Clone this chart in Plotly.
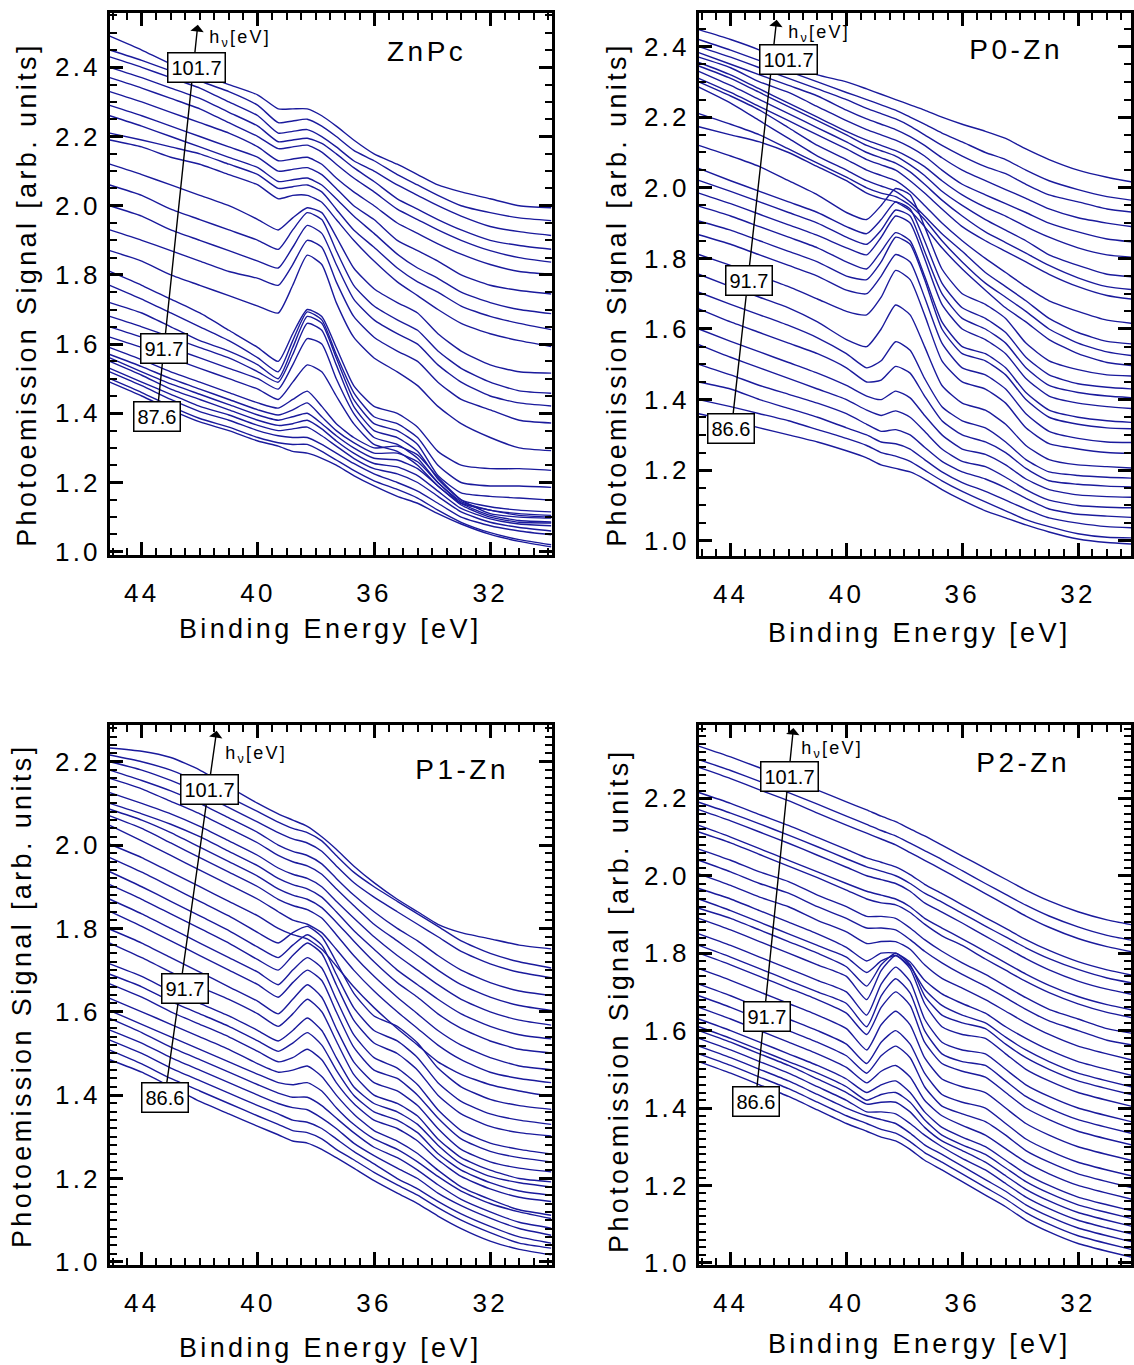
import plotly.graph_objects as go

# ---------------- data ----------------
ENERGY = [45.1, 44.0, 43.0, 42.0, 41.0, 40.0, 39.3, 38.8, 38.3, 37.8,
          37.3, 36.7, 36.0, 35.2, 34.5, 33.8, 33.0, 32.0, 31.0, 29.9]

ZNPC = [
    [1.49,1.45,1.41,1.375,1.35,1.32,1.305,1.29,1.285,1.27,1.25,1.22,1.19,1.16,1.14,1.11,1.08,1.05,1.03,1.014],
    [1.50,1.46,1.42,1.385,1.36,1.33,1.315,1.31,1.31,1.29,1.265,1.235,1.205,1.18,1.155,1.12,1.085,1.055,1.035,1.020],
    [1.52,1.48,1.44,1.405,1.38,1.35,1.335,1.33,1.33,1.31,1.285,1.255,1.225,1.20,1.175,1.14,1.10,1.075,1.06,1.049],
    [1.53,1.49,1.455,1.42,1.395,1.365,1.35,1.355,1.36,1.335,1.305,1.27,1.24,1.225,1.20,1.16,1.115,1.085,1.07,1.06],
    [1.55,1.51,1.47,1.44,1.41,1.38,1.365,1.37,1.38,1.355,1.32,1.285,1.255,1.245,1.22,1.175,1.125,1.095,1.08,1.075],
    [1.56,1.52,1.485,1.455,1.425,1.395,1.38,1.39,1.40,1.37,1.335,1.30,1.27,1.265,1.24,1.19,1.135,1.10,1.085,1.083],
    [1.57,1.535,1.50,1.47,1.44,1.41,1.395,1.41,1.43,1.39,1.35,1.315,1.285,1.285,1.26,1.20,1.14,1.105,1.09,1.086],
    [1.59,1.555,1.52,1.49,1.46,1.43,1.415,1.44,1.464,1.42,1.37,1.33,1.30,1.305,1.28,1.215,1.15,1.11,1.10,1.097],
    [1.62,1.59,1.56,1.53,1.50,1.47,1.44,1.49,1.54,1.52,1.45,1.37,1.31,1.29,1.25,1.19,1.14,1.12,1.105,1.10],
    [1.65,1.62,1.59,1.56,1.53,1.50,1.47,1.54,1.616,1.60,1.50,1.40,1.33,1.31,1.27,1.20,1.145,1.12,1.11,1.105],
    [1.68,1.65,1.62,1.59,1.56,1.52,1.49,1.57,1.66,1.64,1.54,1.42,1.35,1.33,1.29,1.21,1.15,1.13,1.12,1.115],
    [1.72,1.69,1.65,1.61,1.58,1.54,1.50,1.59,1.68,1.66,1.56,1.44,1.37,1.35,1.31,1.22,1.17,1.16,1.155,1.149],
    [1.77,1.73,1.69,1.65,1.61,1.56,1.52,1.61,1.693,1.67,1.57,1.46,1.39,1.37,1.33,1.25,1.20,1.19,1.19,1.186],
    [1.81,1.77,1.73,1.69,1.64,1.59,1.55,1.63,1.70,1.68,1.59,1.48,1.42,1.40,1.36,1.29,1.25,1.24,1.24,1.235],
    [1.87,1.84,1.80,1.77,1.74,1.71,1.69,1.77,1.857,1.83,1.72,1.62,1.56,1.52,1.48,1.42,1.37,1.33,1.30,1.292],
    [1.93,1.90,1.87,1.84,1.81,1.79,1.77,1.83,1.90,1.88,1.78,1.68,1.62,1.58,1.55,1.49,1.44,1.41,1.38,1.372],
    [2.00,1.97,1.93,1.90,1.87,1.84,1.82,1.88,1.943,1.92,1.83,1.73,1.67,1.63,1.60,1.54,1.49,1.45,1.43,1.421],
    [2.06,2.03,1.99,1.96,1.93,1.90,1.874,1.93,1.98,1.96,1.87,1.77,1.71,1.67,1.64,1.58,1.53,1.49,1.465,1.458],
    [2.12,2.09,2.06,2.03,2.00,1.96,1.93,1.965,1.994,1.98,1.91,1.82,1.76,1.72,1.69,1.63,1.58,1.54,1.52,1.516],
    [2.19,2.17,2.14,2.12,2.09,2.06,2.02,2.03,2.03,2.01,1.96,1.90,1.84,1.78,1.74,1.70,1.66,1.63,1.61,1.593],
    [2.21,2.19,2.17,2.15,2.12,2.09,2.05,2.055,2.06,2.04,1.99,1.93,1.88,1.82,1.78,1.75,1.71,1.68,1.66,1.642],
    [2.26,2.23,2.20,2.17,2.14,2.11,2.07,2.075,2.08,2.06,2.02,1.97,1.92,1.86,1.82,1.79,1.75,1.72,1.70,1.688],
    [2.29,2.26,2.23,2.20,2.17,2.14,2.10,2.105,2.11,2.09,2.05,2.00,1.96,1.90,1.87,1.84,1.80,1.77,1.755,1.745],
    [2.33,2.30,2.27,2.24,2.21,2.17,2.13,2.135,2.14,2.12,2.08,2.04,2.00,1.95,1.92,1.89,1.86,1.83,1.81,1.802],
    [2.37,2.34,2.31,2.28,2.24,2.20,2.165,2.17,2.175,2.155,2.12,2.08,2.04,1.99,1.96,1.93,1.90,1.87,1.85,1.837],
    [2.40,2.37,2.34,2.31,2.27,2.23,2.185,2.19,2.195,2.18,2.15,2.11,2.07,2.02,1.99,1.96,1.93,1.90,1.885,1.874],
    [2.43,2.40,2.37,2.34,2.30,2.26,2.21,2.215,2.22,2.20,2.17,2.13,2.10,2.06,2.03,2.00,1.97,1.94,1.925,1.914],
    [2.45,2.42,2.39,2.36,2.33,2.29,2.24,2.245,2.25,2.23,2.20,2.16,2.13,2.09,2.06,2.03,2.00,1.98,1.965,1.957],
    [2.49,2.45,2.41,2.38,2.35,2.32,2.28,2.28,2.28,2.26,2.23,2.19,2.15,2.12,2.09,2.06,2.04,2.02,2.00,1.994],
]

P0_ZN = [
    [1.36,1.34,1.32,1.30,1.28,1.255,1.235,1.215,1.205,1.195,1.175,1.145,1.115,1.085,1.065,1.045,1.025,1.005,0.995,0.99],
    [1.40,1.38,1.36,1.34,1.315,1.29,1.27,1.25,1.24,1.225,1.20,1.17,1.14,1.11,1.085,1.06,1.04,1.02,1.01,1.008],
    [1.45,1.43,1.40,1.375,1.35,1.32,1.30,1.28,1.275,1.26,1.23,1.195,1.165,1.14,1.115,1.09,1.065,1.05,1.04,1.036],
    [1.50,1.47,1.44,1.415,1.39,1.36,1.33,1.31,1.315,1.30,1.265,1.225,1.195,1.175,1.15,1.12,1.09,1.075,1.07,1.065],
    [1.556,1.52,1.49,1.46,1.43,1.40,1.37,1.355,1.368,1.35,1.31,1.26,1.225,1.21,1.18,1.145,1.115,1.10,1.095,1.093],
    [1.60,1.565,1.535,1.505,1.475,1.44,1.41,1.40,1.424,1.405,1.355,1.30,1.26,1.245,1.215,1.175,1.145,1.13,1.125,1.123],
    [1.657,1.62,1.59,1.56,1.53,1.49,1.45,1.455,1.494,1.475,1.41,1.34,1.30,1.28,1.25,1.205,1.17,1.16,1.155,1.152],
    [1.704,1.67,1.64,1.61,1.575,1.53,1.49,1.51,1.564,1.54,1.46,1.38,1.34,1.32,1.28,1.23,1.195,1.185,1.18,1.177],
    [1.755,1.72,1.69,1.66,1.62,1.57,1.55,1.60,1.668,1.64,1.55,1.44,1.39,1.37,1.33,1.27,1.23,1.215,1.21,1.205],
    [1.811,1.78,1.75,1.72,1.685,1.65,1.64,1.69,1.766,1.74,1.64,1.51,1.45,1.43,1.39,1.32,1.275,1.26,1.25,1.247],
    [1.867,1.84,1.81,1.78,1.75,1.71,1.70,1.75,1.811,1.79,1.69,1.56,1.49,1.47,1.43,1.36,1.31,1.29,1.28,1.278],
    [1.906,1.88,1.85,1.82,1.79,1.75,1.74,1.79,1.86,1.84,1.74,1.60,1.53,1.51,1.47,1.40,1.35,1.33,1.32,1.317],
    [1.948,1.92,1.89,1.86,1.83,1.79,1.77,1.82,1.873,1.85,1.75,1.62,1.55,1.53,1.49,1.42,1.37,1.35,1.34,1.334],
    [1.985,1.955,1.925,1.895,1.865,1.83,1.81,1.86,1.92,1.90,1.80,1.67,1.60,1.57,1.53,1.46,1.41,1.39,1.38,1.373],
    [2.021,1.99,1.96,1.93,1.90,1.86,1.84,1.88,1.937,1.92,1.82,1.70,1.63,1.60,1.56,1.49,1.44,1.42,1.41,1.404],
    [2.055,2.02,1.99,1.96,1.93,1.89,1.87,1.91,1.96,1.94,1.85,1.73,1.66,1.63,1.59,1.52,1.47,1.445,1.435,1.429],
    [2.12,2.09,2.06,2.02,1.98,1.93,1.91,1.95,1.998,1.98,1.89,1.77,1.70,1.67,1.63,1.56,1.51,1.485,1.47,1.466],
    [2.173,2.15,2.13,2.10,2.06,2.02,1.985,1.97,1.96,1.935,1.89,1.83,1.77,1.71,1.66,1.62,1.57,1.53,1.505,1.494],
    [2.21,2.18,2.15,2.11,2.07,2.03,2.00,1.985,1.975,1.95,1.91,1.85,1.79,1.73,1.69,1.65,1.60,1.56,1.535,1.522],
    [2.285,2.24,2.19,2.14,2.09,2.05,2.02,2.005,1.99,1.96,1.92,1.87,1.82,1.76,1.72,1.68,1.63,1.59,1.565,1.556],
    [2.30,2.26,2.22,2.17,2.12,2.08,2.05,2.035,2.02,1.99,1.95,1.90,1.85,1.80,1.76,1.72,1.68,1.65,1.625,1.614],
    [2.31,2.27,2.23,2.19,2.15,2.11,2.08,2.065,2.05,2.02,1.985,1.94,1.89,1.85,1.82,1.79,1.755,1.72,1.695,1.682],
    [2.33,2.29,2.25,2.21,2.17,2.13,2.10,2.085,2.07,2.045,2.01,1.965,1.92,1.875,1.845,1.815,1.78,1.745,1.72,1.710],
    [2.345,2.31,2.27,2.23,2.19,2.15,2.12,2.105,2.09,2.065,2.035,1.99,1.95,1.91,1.88,1.85,1.81,1.78,1.755,1.746],
    [2.355,2.32,2.28,2.24,2.20,2.16,2.135,2.12,2.105,2.085,2.06,2.02,1.98,1.945,1.92,1.89,1.86,1.83,1.81,1.802],
    [2.37,2.34,2.30,2.27,2.23,2.19,2.165,2.15,2.135,2.115,2.09,2.05,2.01,1.98,1.955,1.93,1.90,1.875,1.855,1.845],
    [2.383,2.35,2.32,2.29,2.26,2.22,2.195,2.18,2.165,2.145,2.12,2.085,2.05,2.02,1.995,1.97,1.94,1.915,1.90,1.887],
    [2.40,2.37,2.34,2.31,2.28,2.25,2.225,2.21,2.195,2.175,2.15,2.12,2.09,2.06,2.04,2.01,1.98,1.96,1.94,1.929],
    [2.42,2.39,2.36,2.33,2.30,2.27,2.25,2.235,2.22,2.20,2.18,2.155,2.13,2.10,2.08,2.05,2.02,1.995,1.975,1.962],
    [2.448,2.42,2.39,2.35,2.32,2.30,2.28,2.265,2.25,2.235,2.22,2.20,2.18,2.16,2.14,2.11,2.08,2.05,2.03,2.013],
]

P1_ZN = [
    [1.485,1.455,1.42,1.385,1.355,1.325,1.305,1.29,1.285,1.27,1.25,1.225,1.195,1.165,1.14,1.11,1.08,1.05,1.03,1.017],
    [1.508,1.475,1.44,1.41,1.38,1.35,1.33,1.315,1.31,1.295,1.27,1.245,1.215,1.185,1.16,1.13,1.10,1.07,1.045,1.033],
    [1.532,1.50,1.465,1.435,1.405,1.375,1.355,1.34,1.335,1.32,1.295,1.265,1.235,1.20,1.175,1.145,1.115,1.085,1.06,1.045],
    [1.556,1.525,1.49,1.46,1.43,1.40,1.38,1.37,1.365,1.345,1.32,1.285,1.255,1.225,1.20,1.165,1.135,1.105,1.08,1.064],
    [1.584,1.55,1.515,1.485,1.455,1.425,1.405,1.395,1.395,1.375,1.345,1.31,1.275,1.25,1.22,1.185,1.15,1.12,1.095,1.081],
    [1.603,1.57,1.54,1.51,1.48,1.45,1.43,1.425,1.43,1.41,1.37,1.33,1.295,1.27,1.24,1.205,1.17,1.14,1.12,1.104],
    [1.632,1.60,1.57,1.54,1.51,1.475,1.455,1.46,1.47,1.445,1.40,1.355,1.315,1.29,1.26,1.22,1.18,1.15,1.125,1.112],
    [1.667,1.635,1.60,1.57,1.54,1.505,1.48,1.49,1.51,1.485,1.43,1.38,1.34,1.32,1.29,1.245,1.205,1.175,1.155,1.145],
    [1.69,1.66,1.625,1.595,1.565,1.53,1.505,1.525,1.55,1.52,1.46,1.40,1.36,1.34,1.31,1.26,1.22,1.19,1.17,1.16],
    [1.715,1.685,1.65,1.62,1.59,1.555,1.53,1.555,1.585,1.555,1.49,1.42,1.38,1.36,1.33,1.28,1.235,1.205,1.19,1.18],
    [1.765,1.73,1.695,1.66,1.63,1.595,1.565,1.595,1.63,1.60,1.53,1.45,1.40,1.38,1.35,1.295,1.25,1.22,1.20,1.192],
    [1.798,1.765,1.73,1.695,1.66,1.625,1.595,1.63,1.665,1.635,1.56,1.48,1.43,1.41,1.375,1.32,1.27,1.24,1.225,1.216],
    [1.841,1.805,1.77,1.735,1.70,1.665,1.635,1.67,1.70,1.675,1.60,1.515,1.46,1.44,1.40,1.345,1.295,1.265,1.25,1.24],
    [1.87,1.835,1.80,1.765,1.73,1.695,1.665,1.70,1.73,1.705,1.63,1.545,1.49,1.465,1.425,1.365,1.315,1.285,1.27,1.259],
    [1.905,1.87,1.835,1.80,1.765,1.725,1.70,1.735,1.765,1.74,1.665,1.58,1.525,1.50,1.46,1.40,1.355,1.325,1.31,1.302],
    [1.936,1.90,1.865,1.83,1.795,1.755,1.73,1.76,1.785,1.76,1.69,1.61,1.555,1.53,1.49,1.43,1.385,1.355,1.34,1.330],
    [1.97,1.935,1.90,1.865,1.83,1.79,1.765,1.79,1.805,1.78,1.72,1.645,1.59,1.565,1.525,1.465,1.42,1.39,1.375,1.366],
    [2.002,1.97,1.935,1.90,1.865,1.83,1.80,1.785,1.775,1.75,1.71,1.66,1.61,1.56,1.52,1.48,1.45,1.425,1.41,1.397],
    [2.047,2.01,1.975,1.94,1.905,1.87,1.84,1.82,1.81,1.79,1.75,1.70,1.65,1.60,1.56,1.52,1.485,1.455,1.44,1.43],
    [2.07,2.04,2.005,1.97,1.935,1.90,1.87,1.855,1.845,1.825,1.785,1.735,1.685,1.635,1.595,1.555,1.52,1.49,1.47,1.461],
    [2.086,2.06,2.03,1.995,1.96,1.925,1.895,1.88,1.87,1.85,1.815,1.77,1.72,1.67,1.635,1.595,1.56,1.53,1.51,1.501],
    [2.10,2.075,2.05,2.02,1.985,1.95,1.92,1.905,1.895,1.875,1.84,1.795,1.75,1.70,1.665,1.63,1.595,1.565,1.545,1.535],
    [2.126,2.10,2.075,2.045,2.01,1.975,1.945,1.93,1.92,1.90,1.865,1.825,1.78,1.735,1.70,1.665,1.63,1.60,1.58,1.568],
    [2.16,2.135,2.105,2.075,2.04,2.005,1.975,1.96,1.95,1.93,1.895,1.855,1.81,1.77,1.735,1.70,1.665,1.635,1.615,1.603],
    [2.18,2.155,2.13,2.10,2.065,2.03,2.00,1.985,1.975,1.955,1.92,1.88,1.84,1.80,1.77,1.735,1.70,1.67,1.65,1.639],
    [2.20,2.18,2.155,2.125,2.09,2.055,2.03,2.015,2.005,1.985,1.95,1.91,1.875,1.84,1.81,1.78,1.745,1.715,1.695,1.682],
    [2.216,2.20,2.18,2.15,2.115,2.08,2.055,2.04,2.03,2.01,1.975,1.935,1.90,1.865,1.835,1.805,1.77,1.74,1.72,1.705],
    [2.233,2.225,2.21,2.18,2.14,2.10,2.075,2.06,2.045,2.02,1.99,1.95,1.91,1.87,1.84,1.81,1.79,1.775,1.76,1.751],
]

P2_ZN = [
    [1.52,1.49,1.46,1.43,1.395,1.36,1.34,1.325,1.315,1.293,1.265,1.24,1.21,1.175,1.145,1.11,1.08,1.05,1.03,1.01],
    [1.54,1.51,1.48,1.45,1.415,1.38,1.36,1.345,1.335,1.313,1.285,1.26,1.23,1.195,1.165,1.13,1.10,1.07,1.05,1.03],
    [1.56,1.53,1.50,1.47,1.435,1.40,1.38,1.37,1.36,1.335,1.305,1.28,1.25,1.215,1.185,1.15,1.12,1.09,1.07,1.05],
    [1.58,1.55,1.52,1.49,1.455,1.42,1.39,1.39,1.385,1.36,1.33,1.30,1.27,1.24,1.205,1.17,1.14,1.11,1.09,1.07],
    [1.60,1.57,1.54,1.51,1.475,1.44,1.41,1.415,1.415,1.39,1.35,1.315,1.29,1.26,1.225,1.19,1.16,1.13,1.11,1.09],
    [1.61,1.58,1.55,1.52,1.49,1.455,1.42,1.435,1.44,1.415,1.37,1.33,1.305,1.28,1.245,1.21,1.18,1.15,1.13,1.11],
    [1.63,1.60,1.57,1.54,1.51,1.475,1.44,1.46,1.47,1.44,1.39,1.35,1.325,1.30,1.265,1.23,1.20,1.17,1.15,1.13],
    [1.66,1.63,1.60,1.57,1.54,1.505,1.465,1.495,1.51,1.48,1.42,1.38,1.355,1.33,1.295,1.26,1.23,1.20,1.18,1.16],
    [1.69,1.66,1.63,1.60,1.57,1.535,1.49,1.535,1.56,1.53,1.455,1.405,1.385,1.365,1.33,1.29,1.26,1.23,1.21,1.19],
    [1.72,1.69,1.66,1.63,1.60,1.565,1.515,1.57,1.60,1.565,1.49,1.435,1.415,1.40,1.36,1.32,1.29,1.26,1.24,1.22],
    [1.76,1.73,1.70,1.67,1.64,1.605,1.55,1.615,1.65,1.615,1.53,1.475,1.455,1.44,1.40,1.36,1.33,1.30,1.28,1.26],
    [1.80,1.77,1.74,1.71,1.68,1.645,1.59,1.66,1.70,1.665,1.57,1.515,1.495,1.48,1.44,1.40,1.37,1.34,1.32,1.30],
    [1.82,1.79,1.76,1.73,1.70,1.67,1.61,1.69,1.734,1.697,1.60,1.54,1.52,1.51,1.47,1.43,1.40,1.37,1.35,1.33],
    [1.85,1.82,1.79,1.76,1.73,1.70,1.64,1.72,1.764,1.727,1.63,1.57,1.55,1.54,1.50,1.46,1.43,1.40,1.38,1.36],
    [1.89,1.86,1.83,1.80,1.77,1.74,1.68,1.755,1.794,1.76,1.67,1.61,1.59,1.58,1.54,1.50,1.47,1.44,1.42,1.40],
    [1.916,1.89,1.86,1.83,1.80,1.765,1.715,1.77,1.80,1.77,1.69,1.64,1.62,1.605,1.565,1.53,1.50,1.47,1.45,1.43],
    [1.94,1.91,1.88,1.85,1.82,1.79,1.75,1.78,1.794,1.766,1.707,1.665,1.64,1.62,1.583,1.55,1.52,1.49,1.47,1.45],
    [1.967,1.94,1.91,1.88,1.85,1.815,1.78,1.80,1.80,1.777,1.73,1.695,1.67,1.645,1.61,1.58,1.55,1.52,1.50,1.48],
    [2.005,1.975,1.945,1.92,1.885,1.855,1.825,1.83,1.83,1.81,1.77,1.735,1.71,1.68,1.65,1.62,1.59,1.56,1.54,1.52],
    [2.04,2.01,1.98,1.955,1.92,1.89,1.865,1.865,1.86,1.835,1.805,1.775,1.745,1.715,1.685,1.655,1.625,1.60,1.575,1.56],
    [2.069,2.04,2.01,1.985,1.95,1.92,1.895,1.895,1.89,1.865,1.835,1.805,1.775,1.745,1.715,1.685,1.655,1.63,1.605,1.59],
    [2.113,2.085,2.055,2.025,1.995,1.963,1.94,1.93,1.925,1.905,1.875,1.845,1.82,1.785,1.756,1.727,1.698,1.669,1.647,1.63],
    [2.13,2.10,2.07,2.04,2.01,1.98,1.96,1.95,1.94,1.92,1.89,1.865,1.837,1.804,1.775,1.746,1.717,1.688,1.667,1.65],
    [2.171,2.142,2.113,2.084,2.053,2.022,2.0,1.99,1.98,1.96,1.93,1.906,1.878,1.844,1.815,1.786,1.757,1.728,1.707,1.69],
    [2.19,2.162,2.134,2.105,2.075,2.044,2.023,2.012,2.0,1.98,1.955,1.932,1.903,1.87,1.842,1.814,1.786,1.758,1.736,1.72],
    [2.215,2.187,2.158,2.13,2.099,2.068,2.046,2.035,2.023,2.003,1.978,1.954,1.925,1.892,1.864,1.835,1.807,1.778,1.757,1.74],
    [2.28,2.251,2.222,2.194,2.162,2.131,2.11,2.095,2.08,2.06,2.04,2.016,1.987,1.954,1.925,1.896,1.867,1.838,1.817,1.80],
    [2.30,2.272,2.244,2.215,2.185,2.154,2.133,2.117,2.103,2.084,2.065,2.042,2.013,1.98,1.952,1.924,1.896,1.868,1.846,1.83],
    [2.335,2.307,2.279,2.251,2.221,2.191,2.17,2.154,2.14,2.121,2.103,2.079,2.051,2.019,1.991,1.963,1.935,1.907,1.886,1.87],
]

PANEL_NAMES = ["ZnPc", "P0-Zn", "P1-Zn", "P2-Zn"]
PHOTON_LABELS = [["101.7", "91.7", "87.6"],
                 ["101.7", "91.7", "86.6"],
                 ["101.7", "91.7", "86.6"],
                 ["101.7", "91.7", "86.6"]]
X_TITLE = "Binding Energy [eV]"
Y_TITLE = "Photoemission Signal [arb. units]"
HV_TEXT = "h<sub>ν</sub>[eV]"

# ---------------- style / geometry ----------------
FONT = "Liberation Sans, Arial, Helvetica, sans-serif"
LINE_COLOR = "#1a1a9c"
W, H = 1134, 1365

XDOM = [[110 / W, 553 / W], [700 / W, 1133 / W], [110 / W, 553 / W], [700 / W, 1133 / W]]
YDOM = [[1 - 560 / H, 1 - 13 / H], [1 - 561 / H, 1 - 13 / H],
        [1 - 1277 / H, 1 - 732 / H], [1 - 1277 / H, 1 - 732 / H]]
XRANGE = [[45.1, 29.87], [45.1, 30.17], [45.1, 29.87], [45.1, 30.17]]
YRANGE = [[0.9914, 2.5574], [0.9579, 2.4955], [0.9929, 2.288], [0.9949, 2.3894]]
YMINOR = [0.05, 0.05, 0.02, 0.02]

ARROW_TIP = [(42.07, 2.523), (42.41, 2.476), (41.42, 2.274), (41.83, 2.382)]
ARROW_TAIL = [(43.48, 1.392), (43.97, 1.317), (43.21, 1.394), (43.14, 1.417)]
BOX_POS = [[(42.11, 2.40), (43.24, 1.587), (43.48, 1.392)],
           [(42.0, 2.364), (43.38, 1.738), (43.97, 1.317)],
           [(41.66, 2.134), (42.52, 1.656), (43.21, 1.394)],
           [(41.97, 2.256), (42.76, 1.637), (43.14, 1.417)]]
HV_POS = [(41.52, 2.483), (41.86, 2.436), (40.97, 2.218), (41.38, 2.325)]
NAME_POS = [(34.20, 2.446), (34.14, 2.392), (32.96, 2.181), (33.90, 2.292)]
# x titles: (x, y, yanchor); y titles: (x, y)
XT_POS = [(331 / W, 1 - 635 / H, "middle"), (921 / W, 1 - 639 / H, "middle"),
          (331 / W, -13 / H, "bottom"), (921 / W, -9 / H, "bottom")]
YT_POS = [(27 / W, 1 - 297 / H), (618 / W, 1 - 297 / H), (22 / W, 1 - 1005 / H), (620 / W, 1 - 1010 / H)]

fig = go.Figure()
panels = [ZNPC, P0_ZN, P1_ZN, P2_ZN]
layout = {}
annotations = []
box_indices = []

for p, curves in enumerate(panels):
    xa = "x" if p == 0 else f"x{p + 1}"
    ya = "y" if p == 0 else f"y{p + 1}"
    for c in curves:
        fig.add_trace(go.Scatter(x=ENERGY, y=c, mode="lines",
                                 line=dict(color=LINE_COLOR, width=1.4, shape="spline", smoothing=0.55),
                                 xaxis=xa, yaxis=ya, showlegend=False,
                                 hoverinfo="skip"))
    common = dict(showline=True, linewidth=2.5, linecolor="black", mirror="ticks",
                  ticks="inside", tickcolor="black", tickwidth=2.5, ticklen=13,
                  showgrid=False, zeroline=False,
                  tickfont=dict(family=FONT, size=26, color="black"))
    layout["xaxis" if p == 0 else f"xaxis{p + 1}"] = dict(
        domain=XDOM[p], range=XRANGE[p], anchor=ya,
        tickmode="array", tickvals=[44, 40, 36, 32],
        minor=dict(ticks="inside", ticklen=7, tickwidth=2, tickcolor="black", dtick=0.5, tick0=44),
        ticklabelstandoff=13, **common)
    layout["yaxis" if p == 0 else f"yaxis{p + 1}"] = dict(
        domain=YDOM[p], range=YRANGE[p], anchor=xa,
        tick0=1.0, dtick=0.2, tickformat=".1f",
        minor=dict(ticks="inside", ticklen=7, tickwidth=2, tickcolor="black", dtick=YMINOR[p], tick0=1.0),
        ticklabelstandoff=1, **common)

    # arrow of increasing photon energy
    annotations.append(dict(x=ARROW_TIP[p][0], y=ARROW_TIP[p][1], ax=ARROW_TAIL[p][0], ay=ARROW_TAIL[p][1],
                            xref=xa, yref=ya, axref=xa, ayref=ya, text="", showarrow=True,
                            arrowhead=1, arrowsize=1.6, arrowwidth=1.4, arrowcolor="black",
                            standoff=0, startstandoff=0))
    for lab, (bx, by) in zip(PHOTON_LABELS[p], BOX_POS[p]):
        box_indices.append(len(annotations))
        annotations.append(dict(x=bx, y=by, xref=xa, yref=ya, text=lab, showarrow=False,
                                xanchor="center", yanchor="middle",
                                bgcolor="white", bordercolor="black", borderwidth=1.5, borderpad=3,
                                font=dict(family=FONT, size=20, color="black")))
    annotations.append(dict(x=HV_POS[p][0], y=HV_POS[p][1], xref=xa, yref=ya, text=HV_TEXT,
                            showarrow=False, xanchor="left", yanchor="middle",
                            font=dict(family=FONT, size=18, color="black")))
    annotations.append(dict(x=NAME_POS[p][0], y=NAME_POS[p][1], xref=xa, yref=ya, text=PANEL_NAMES[p],
                            showarrow=False, xanchor="center", yanchor="middle",
                            font=dict(family=FONT, size=28, color="black")))
    annotations.append(dict(x=XT_POS[p][0], y=XT_POS[p][1], xref="paper", yref="paper", text=X_TITLE,
                            showarrow=False, xanchor="center", yanchor=XT_POS[p][2],
                            font=dict(family=FONT, size=27, color="black")))
    annotations.append(dict(x=YT_POS[p][0], y=YT_POS[p][1], xref="paper", yref="paper", text=Y_TITLE,
                            showarrow=False, textangle=-90, xanchor="center", yanchor="middle",
                            font=dict(family=FONT, size=27, color="black")))

fig.update_layout(width=W, height=H, autosize=False,
                  margin=dict(l=0, r=0, t=0, b=0),
                  paper_bgcolor="white", plot_bgcolor="white",
                  showlegend=False, annotations=annotations, **layout)

box_sel = ",".join(f'g.annotation[data-index="{i}"] text' for i in box_indices)
POST = ("var st=document.createElement('style');"
        "st.innerHTML='svg text{letter-spacing:0.125em;} " + box_sel.replace("'", "\\'") +
        "{letter-spacing:normal;}';"
        "document.head.appendChild(st);")

fig.write_html("out.html", include_plotlyjs=True, config={"displayModeBar": False},
               post_script=POST)
